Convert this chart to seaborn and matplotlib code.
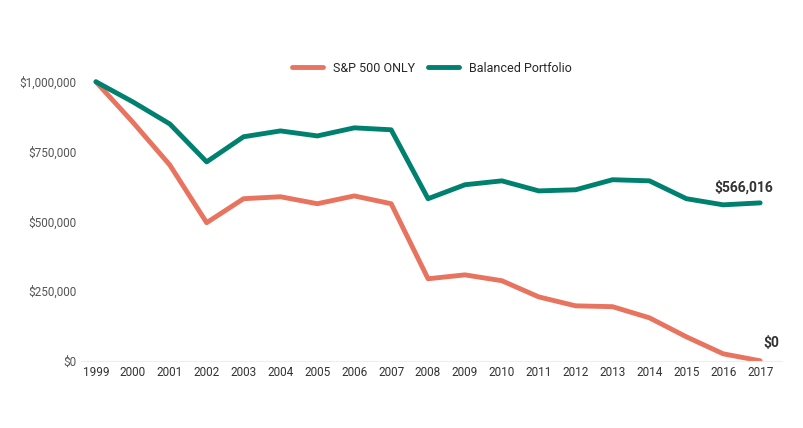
import matplotlib
matplotlib.use("Agg")
import matplotlib.pyplot as plt
import seaborn as sns
import pandas as pd
from matplotlib.ticker import FuncFormatter

years = list(range(1999, 2018))
sp500 = [1000000, 855000, 702000, 495000, 581000, 588000, 563000, 591000, 563000,
         294000, 308000, 287000, 229000, 197000, 194000, 154000, 86000, 25000, 0]
balanced = [1000000, 928000, 849000, 713000, 803000, 824000, 806000, 835000, 828000,
            581000, 631000, 645000, 609000, 613000, 649000, 645000, 581000, 559000, 566016]
series_names = ["S&P 500 ONLY", "Balanced Portfolio"]

df = pd.DataFrame({"Year": years * 2,
                   "Value": sp500 + balanced,
                   "Series": [series_names[0]] * len(years) + [series_names[1]] * len(years)})

sns.set_style("white")
plt.rcParams['font.family'] = ['Roboto', 'DejaVu Sans']
fig, ax = plt.subplots(figsize=(8.04, 4.28), dpi=100)
sns.lineplot(data=df, x="Year", y="Value", hue="Series",
             palette=["#E8735F", "#00806E"], linewidth=3.5, ax=ax)
fig.subplots_adjust(left=0.101, right=0.973, top=0.848, bottom=0.157)
ax.set_xlim(1998.6, 2017.6)
ax.set_ylim(0, 1060000)
ax.set_xticks(years)
ax.set_xticklabels([str(y) for y in years], fontsize=8.5, color="#333333")
ax.set_yticks([0, 250000, 500000, 750000, 1000000])
ax.yaxis.set_major_formatter(FuncFormatter(lambda v, p: f"${v:,.0f}"))
ax.tick_params(axis="y", labelsize=8.5, colors="#555555", length=0)
ax.tick_params(axis="x", length=0)
ax.set_xlabel("")
ax.set_ylabel("")
for s in ["top", "right", "left"]:
    ax.spines[s].set_visible(False)
ax.spines["bottom"].set_color("#eeeeee")
ax.legend(loc="upper center", bbox_to_anchor=(0.5, 1.05), ncol=2, frameon=False,
          fontsize=9, handlelength=2.5, columnspacing=1.0)
ax.annotate(f"${balanced[-1]:,.0f}", (years[-1], balanced[-1]), xytext=(-12, 8),
            textcoords="offset points", ha="center", fontsize=10, fontweight="bold", color="#333333")
ax.annotate(f"${sp500[-1]:,.0f}", (years[-1], sp500[-1]), xytext=(8, 10),
            textcoords="offset points", ha="center", fontsize=10, fontweight="bold", color="#333333")
fig.savefig("out.png", dpi=100)
